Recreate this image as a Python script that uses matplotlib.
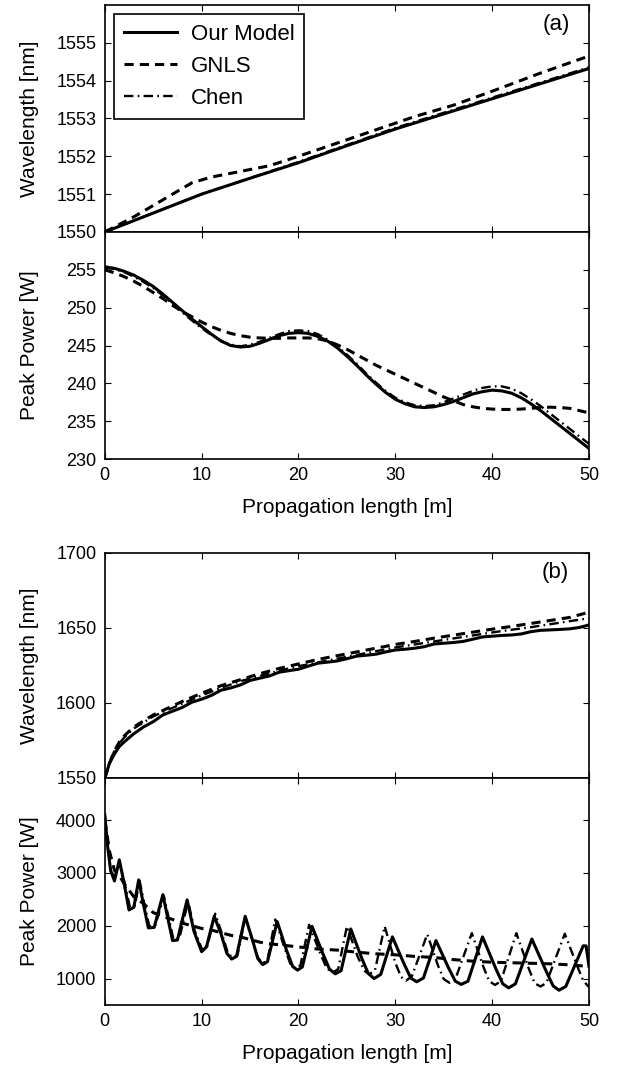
import matplotlib
matplotlib.use("Agg")
import matplotlib.pyplot as plt

plt.rcParams['font.family'] = ['Liberation Sans', 'DejaVu Sans']

# ---- panel (a): wavelength ----
a_wl_x_model = [0, 5, 10, 15, 20, 25, 30, 35, 40, 45, 50]
a_wl_model = [1550.0, 1550.5, 1551.0, 1551.42, 1551.83, 1552.28, 1552.72, 1553.12, 1553.52, 1553.92, 1554.32]
a_wl_x_gnls = [0, 3, 5, 7, 9, 11, 14, 17, 20, 24, 28, 32, 36, 40, 45, 50]
a_wl_gnls = [1550.0, 1550.4, 1550.7, 1551.0, 1551.3, 1551.45, 1551.6, 1551.75, 1552.0, 1552.35,
             1552.7, 1553.05, 1553.35, 1553.72, 1554.2, 1554.65]
a_wl_x_chen = [0, 10, 20, 30, 40, 50]
a_wl_chen = [1550.0, 1551.0, 1551.85, 1552.75, 1553.55, 1554.35]

# ---- panel (a): peak power, read every metre ----
a_pw_x = list(range(0, 51))
a_pw_model = [255.4, 255.2, 254.8, 254.3, 253.6, 252.8, 251.8, 250.7, 249.6, 248.5, 247.5, 246.5,
              245.6, 245.0, 244.8, 244.9, 245.3, 245.8, 246.3, 246.6, 246.7, 246.6, 246.2, 245.6,
              244.7, 243.6, 242.4, 241.1, 239.9, 238.8, 237.9, 237.3, 236.9, 236.8, 236.9, 237.2,
              237.6, 238.1, 238.6, 238.9, 239.1, 239.0, 238.7, 238.1, 237.3, 236.4, 235.4, 234.4,
              233.4, 232.4, 231.4]
a_pw_gnls = [255.0, 254.6, 254.1, 253.5, 252.8, 252.0, 251.2, 250.3, 249.5, 248.8, 248.1, 247.5,
             247.0, 246.6, 246.3, 246.1, 246.0, 245.95, 245.95, 246.0, 246.0, 246.0, 245.9, 245.6,
             245.1, 244.5, 243.8, 243.1, 242.4, 241.8, 241.2, 240.6, 240.0, 239.4, 238.8, 238.2,
             237.7, 237.2, 236.9, 236.7, 236.6, 236.55, 236.55, 236.6, 236.7, 236.8, 236.85, 236.8,
             236.7, 236.4, 236.1]
a_pw_chen = [255.3, 255.1, 254.7, 254.1, 253.4, 252.6, 251.6, 250.5, 249.4, 248.3, 247.3, 246.4,
             245.6, 245.1, 244.9, 245.1, 245.5, 246.0, 246.5, 246.9, 247.0, 246.9, 246.5, 245.8,
             244.9, 243.8, 242.6, 241.3, 240.1, 239.0, 238.1, 237.5, 237.1, 237.0, 237.1, 237.5,
             238.0, 238.5, 239.0, 239.4, 239.6, 239.6, 239.3, 238.7, 237.9, 237.0, 236.0, 235.0,
             234.0, 233.0, 232.0]

# ---- panel (b): wavelength ----
b_wl_x_model = [0, 0.5, 1, 1.5, 2, 3, 4, 5, 6, 7, 8, 9, 10, 11, 12, 13, 14, 15, 16, 17, 18, 19, 20,
                21, 22, 23, 24, 25, 26, 27, 28, 29, 30, 31, 32, 33, 34, 35, 36, 37, 38, 39, 40, 41,
                42, 43, 44, 45, 46, 47, 48, 49, 50]
b_wl_model = [1550, 1560, 1566, 1571, 1574, 1579.5, 1584, 1587.5, 1592, 1594.5, 1597, 1600.5,
              1602.5, 1605, 1608.5, 1610, 1612, 1615, 1616.5, 1618, 1620.5, 1621.5, 1622.5, 1624.5,
              1626.5, 1627.2, 1628, 1629.5, 1631.2, 1631.8, 1632.5, 1634, 1635.3, 1635.8, 1636.5,
              1637.5, 1639.3, 1639.8, 1640.3, 1641, 1642.5, 1644, 1644.5, 1645, 1645.3, 1646,
              1647.5, 1648.4, 1648.7, 1649, 1649.4, 1650.3, 1652]
b_wl_x_gnls = [0, 0.5, 1, 1.5, 2, 3, 4, 5, 6, 8, 10, 12, 14, 16, 18, 20, 22, 24, 26, 28, 30, 32, 34,
               36, 38, 40, 42, 44, 46, 48, 50]
b_wl_gnls = [1550, 1560, 1568, 1574, 1578, 1584, 1588, 1592, 1595, 1601, 1606.5, 1611.5, 1615.5,
             1619.5, 1623, 1626, 1629, 1631.5, 1634, 1636.5, 1639, 1641, 1643.2, 1645.2, 1647.2,
             1649.2, 1651, 1653, 1655, 1657, 1660.5]
b_wl_x_chen = [0, 0.5, 1, 1.5, 2, 3, 4, 5, 6, 8, 10, 12, 14, 16, 18, 20, 22, 24, 26, 28, 30, 32, 34,
               36, 38, 40, 42, 44, 46, 48, 50]
b_wl_chen = [1550, 1561, 1568, 1573, 1577, 1583, 1587, 1591, 1594, 1599.5, 1605, 1610, 1614.5,
             1618, 1621.5, 1624.5, 1627, 1629.5, 1632, 1634.5, 1637, 1639, 1641, 1643, 1645, 1647,
             1648.8, 1650.5, 1652.5, 1654.5, 1656.5]

# ---- panel (b): peak power ----
b_pw_x_model = [0.0, 0.3, 0.6, 1.0, 1.5, 2.0, 2.5, 3.0, 3.5, 4.0, 4.5, 5.1, 6.0, 6.5, 7.0, 7.5, 8.5,
                9.2, 10.0, 10.5, 11.3, 12.0, 12.6, 13.1, 13.6, 14.5, 15.3, 15.8, 16.3, 16.8, 17.8,
                18.8, 19.4, 19.9, 20.4, 21.4, 22.5, 23.2, 23.8, 24.4, 25.4, 26.5, 27.2, 27.8, 28.5,
                29.7, 30.9, 31.6, 32.2, 32.9, 34.2, 35.5, 36.2, 36.8, 37.5, 39.0, 40.4, 41.1, 41.7,
                42.4, 44.1, 45.6, 46.3, 46.9, 47.6, 49.4, 49.7, 50.0]
b_pw_model = [4100, 3500, 3050, 2850, 3250, 2800, 2300, 2350, 2870, 2400, 1960, 1970, 2590, 2150,
              1720, 1730, 2490, 1900, 1510, 1600, 2180, 1850, 1480, 1370, 1420, 2180, 1700, 1380,
              1265, 1320, 2080, 1520, 1230, 1160, 1220, 1990, 1480, 1180, 1090, 1150, 1940, 1400,
              1100, 1000, 1080, 1790, 1280, 1010, 940, 1010, 1720, 1200, 950, 890, 950, 1790, 1180,
              900, 825, 900, 1750, 1130, 860, 780, 850, 1620, 1620, 1230]
b_pw_x_gnls = [0, 0.5, 1, 1.5, 2, 3, 4, 5, 6, 7, 8, 9, 10, 11, 12, 13, 14, 15, 16, 17, 18, 19, 20,
               21, 22, 23, 24, 26, 28, 30, 32, 34, 36, 38, 40, 42, 44, 46, 48, 50]
b_pw_gnls = [4000, 3400, 3050, 2950, 2800, 2550, 2420, 2250, 2180, 2120, 2050, 2000, 1950, 1920,
             1870, 1820, 1790, 1740, 1690, 1660, 1640, 1620, 1600, 1580, 1560, 1550, 1540, 1500,
             1470, 1450, 1420, 1400, 1360, 1330, 1310, 1300, 1290, 1280, 1260, 1230]
b_pw_x_chen = [0.0, 0.3, 0.6, 1.0, 1.5, 2.0, 2.6, 3.1, 3.6, 4.1, 4.6, 5.2, 6.1, 6.6, 7.1, 7.7, 8.6,
               9.3, 10.1, 10.6, 11.4, 12.1, 12.7, 13.2, 13.7, 14.5, 15.3, 15.8, 16.3, 16.8, 17.6,
               18.6, 19.2, 19.7, 20.2, 21.1, 22.2, 22.9, 23.5, 24.1, 25.0, 26.1, 26.8, 27.3, 27.9,
               28.9, 30.0, 30.6, 31.1, 31.7, 33.3, 34.4, 35.0, 35.6, 36.2, 37.9, 39.1, 39.7, 40.3,
               40.9, 42.5, 43.8, 44.4, 45.0, 45.6, 47.5, 48.8, 49.4, 50.0]
b_pw_chen = [4100, 3500, 3100, 2900, 3200, 2850, 2350, 2380, 2850, 2400, 1990, 2000, 2560, 2150,
             1740, 1760, 2460, 1900, 1530, 1620, 2230, 1850, 1490, 1390, 1440, 2150, 1700, 1400,
             1290, 1350, 2120, 1560, 1260, 1190, 1250, 2020, 1500, 1200, 1110, 1180, 1990, 1420,
             1150, 1080, 1160, 1990, 1300, 1030, 960, 1040, 1840, 1250, 990, 920, 990, 1860, 1220,
             950, 880, 950, 1860, 1180, 910, 850, 920, 1850, 1230, 960, 840]

labels = ['Our Model', 'GNLS', 'Chen']
x_ticks = [0, 10, 20, 30, 40, 50]

TICK_FS = 13
LABEL_FS = 15
styles = [dict(color='black', lw=2.2, ls='-'),
          dict(color='black', lw=2.2, dashes=(3, 2)),
          dict(color='black', lw=1.7, dashes=(4, 1.8, 0.7, 1.8))]


def style_axes(ax, ylim, yticks, show_xlabels):
    ax.set_xlim(0, 50)
    ax.set_ylim(*ylim)
    ax.set_xticks(x_ticks)
    ax.set_yticks(yticks)
    ax.tick_params(direction='in', top=True, right=True, length=4, width=0.8,
                   labelsize=TICK_FS, pad=6)
    if not show_xlabels:
        ax.tick_params(labelbottom=False)
    for s in ax.spines.values():
        s.set_linewidth(1.2)


fig = plt.figure(figsize=(6.2, 10.72), dpi=100)
L, W = 0.169, 0.781
ax1 = fig.add_axes([L, 0.7836, W, 0.2118])
ax2 = fig.add_axes([L, 0.5718, W, 0.2118])
ax3 = fig.add_axes([L, 0.2743, W, 0.2099])
ax4 = fig.add_axes([L, 0.0625, W, 0.2118])

series = [
    (ax1, [(a_wl_x_model, a_wl_model), (a_wl_x_gnls, a_wl_gnls), (a_wl_x_chen, a_wl_chen)]),
    (ax2, [(a_pw_x, a_pw_model), (a_pw_x, a_pw_gnls), (a_pw_x, a_pw_chen)]),
    (ax3, [(b_wl_x_model, b_wl_model), (b_wl_x_gnls, b_wl_gnls), (b_wl_x_chen, b_wl_chen)]),
    (ax4, [(b_pw_x_model, b_pw_model), (b_pw_x_gnls, b_pw_gnls), (b_pw_x_chen, b_pw_chen)]),
]
for ax, curves in series:
    # draw Chen first so the thick lines sit on top
    for (x, y), st, lab in reversed(list(zip(curves, styles, labels))):
        ax.plot(x, y, label=lab, **st)

style_axes(ax1, (1550, 1556), [1550, 1551, 1552, 1553, 1554, 1555], False)
style_axes(ax2, (230, 260), [230, 235, 240, 245, 250, 255], True)
style_axes(ax3, (1550, 1700), [1550, 1600, 1650, 1700], False)
style_axes(ax4, (500, 4800), [1000, 2000, 3000, 4000], True)

ax1.set_ylabel('Wavelength [nm]', fontsize=LABEL_FS)
ax2.set_ylabel('Peak Power [W]', fontsize=LABEL_FS)
ax3.set_ylabel('Wavelength [nm]', fontsize=LABEL_FS)
ax4.set_ylabel('Peak Power [W]', fontsize=LABEL_FS)
for ax in (ax1, ax2, ax3, ax4):
    ax.yaxis.set_label_coords(-0.136, 0.5)
ax2.set_xlabel('Propagation length [m]', fontsize=LABEL_FS, labelpad=10)
ax4.set_xlabel('Propagation length [m]', fontsize=LABEL_FS, labelpad=10)

ax1.text(0.932, 0.912, '(a)', transform=ax1.transAxes, ha='center', va='center', fontsize=16)
ax3.text(0.930, 0.911, '(b)', transform=ax3.transAxes, ha='center', va='center', fontsize=16)

h, l = ax1.get_legend_handles_labels()
leg = ax1.legend(h[::-1], l[::-1], loc='upper left', bbox_to_anchor=(0.019, 0.96),
                 borderaxespad=0, fontsize=16, handlelength=2.4, handletextpad=0.6,
                 labelspacing=0.5, borderpad=0.45, fancybox=False, framealpha=1)
leg.get_frame().set_edgecolor('black')
leg.get_frame().set_linewidth(1.2)

fig.savefig('out.png', dpi=100)
